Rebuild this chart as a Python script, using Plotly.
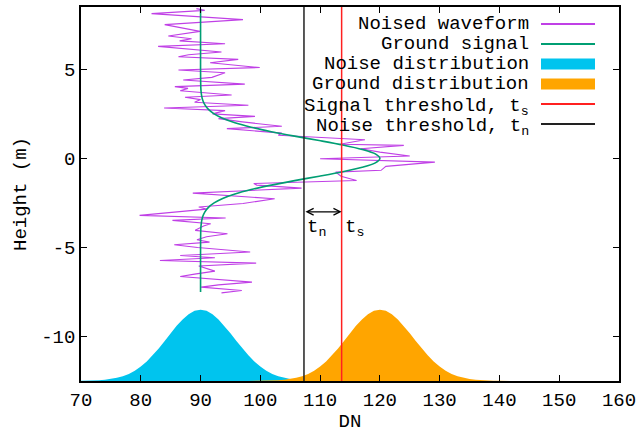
import plotly.graph_objects as go

# ---------------- data ----------------
# Noised waveform: height (m) and DN (top to bottom)
wave_height = [8.41, 8.31, 8.13, 7.95, 7.79, 7.51, 7.13, 6.87, 6.72, 6.60,
               6.44, 6.29, 5.97, 5.82, 5.71, 5.56, 5.37, 5.10, 4.96, 4.81,
               4.55, 4.40, 4.17, 4.03, 3.93, 3.80, 3.56, 3.43, 3.30, 3.15,
               2.98, 2.83, 2.68, 2.50, 2.36, 2.23, 2.05, 1.80, 1.67, 1.42,
               1.30, 1.05, 0.79, 0.73, 0.54, 0.35, 0.13, -0.02, -0.21, -0.45,
               -0.67, -0.77, -1.00, -1.24, -1.41, -1.50, -1.67, -1.95, -2.10, -2.27,
               -2.53, -2.73, -2.85, -3.20, -3.35, -3.48, -3.67, -3.80, -4.04, -4.23,
               -4.40, -4.57, -4.70, -4.85, -5.00, -5.26, -5.45, -5.58, -5.73, -5.88,
               -6.04, -6.20, -6.33, -6.50, -6.63, -6.95, -7.10, -7.23, -7.42, -7.55]
wave_dn = [89.3, 90.7, 81.8, 90.5, 97.1, 84.0, 89.9, 84.6, 88.5, 86.5,
           94.1, 82.9, 93.5, 88.0, 86.3, 96.3, 91.6, 99.9, 86.3, 94.1,
           91.9, 87.1, 97.4, 85.7, 87.9, 86.6, 95.2, 87.4, 90.0, 89.0,
           98.0, 83.9, 94.1, 92.0, 99.1, 93.0, 97.0, 103.6, 94.4, 103.6,
           103.0, 117.5, 113.3, 124.0, 116.8, 120.0, 125.0, 110.0, 129.2, 121.0,
           120.2, 112.6, 113.5, 116.1, 98.9, 99.4, 106.9, 88.7, 95.0, 102.4,
           97.1, 89.7, 91.0, 79.8, 94.2, 85.3, 91.7, 90.5, 89.1, 94.5,
           91.0, 89.4, 91.5, 85.6, 89.5, 98.3, 86.6, 92.4, 83.2, 99.3,
           89.7, 91.0, 92.4, 89.0, 86.6, 98.6, 93.0, 90.1, 96.9, 93.5]

# Ground signal: height (m) and DN
signal_height = [-7.5, -6, -5, -4, -3.75, -3.5, -3.25, -3, -2.75, -2.5,
                 -2.25, -2, -1.75, -1.5, -1.25, -1, -0.75, -0.5, -0.25, 0,
                 0.25, 0.5, 0.75, 1, 1.25, 1.5, 1.75, 2, 2.25, 2.5,
                 2.75, 3, 3.25, 3.5, 3.75, 4, 5, 6, 7, 8.4]
signal_dn = [90.0, 90.0, 90.0, 90.04, 90.09, 90.19, 90.38, 90.73, 91.32, 92.27,
             93.70, 95.75, 98.46, 101.84, 105.73, 109.85, 113.78, 117.05, 119.24, 120.0,
             119.24, 117.05, 113.78, 109.85, 105.73, 101.84, 98.46, 95.75, 93.70, 92.27,
             91.32, 90.73, 90.38, 90.19, 90.09, 90.04, 90.0, 90.0, 90.0, 90.0]

# Distribution shape: DN offset from centre and height above the baseline (m)
dist_offset = list(range(-22, 23))
dist_profile = [0.0, 0.0, 0.01, 0.01, 0.02, 0.04, 0.07, 0.11, 0.18, 0.27,
                0.40, 0.58, 0.81, 1.10, 1.44, 1.83, 2.25, 2.68, 3.10, 3.46,
                3.75, 3.94, 4.00, 3.94, 3.75, 3.46, 3.10, 2.68, 2.25, 1.83,
                1.44, 1.10, 0.81, 0.58, 0.40, 0.27, 0.18, 0.11, 0.07, 0.04,
                0.02, 0.01, 0.01, 0.0, 0.0]
noise_center = 90.0
ground_center = 120.0
dist_base = -12.5

t_n = 107.3
t_s = 113.6
arrow_height = -3.0

x_range = [70, 160]
y_range = [-12.5, 8.5]
x_ticks = [70, 80, 90, 100, 110, 120, 130, 140, 150, 160]
y_ticks = [-10, -5, 0, 5]

legend_labels = ["Noised waveform", "Ground signal", "Noise distribution",
                 "Ground distribution", "Signal threshold, t<sub>s</sub>",
                 "Noise threshold, t<sub>n</sub>"]

# ---------------- style ----------------
FONT = "Liberation Mono"
FS = 19
C_WAVE = "#c040e6"
C_SIG = "#009e73"
C_NOISE = "#00c4ee"
C_GROUND = "#ffa500"
C_TS = "#ff2020"
C_TN = "#222222"

fig = go.Figure()


def dist_trace(center, color):
    xs = [center + d for d in dist_offset]
    ys = [dist_base + h for h in dist_profile]
    return go.Scatter(x=xs, y=ys, mode="lines", line=dict(width=0, color=color),
                      fill="toself", fillcolor=color, hoverinfo="skip", showlegend=False)


fig.add_trace(dist_trace(noise_center, C_NOISE))
fig.add_trace(dist_trace(ground_center, C_GROUND))

fig.add_trace(go.Scatter(x=wave_dn, y=wave_height, mode="lines",
                         line=dict(color=C_WAVE, width=1.1), showlegend=False))
fig.add_trace(go.Scatter(x=signal_dn, y=signal_height, mode="lines",
                         line=dict(color=C_SIG, width=1.6, shape="spline", smoothing=0.8),
                         showlegend=False))

fig.add_trace(go.Scatter(x=[t_n, t_n], y=y_range, mode="lines",
                         line=dict(color=C_TN, width=1.5), showlegend=False))
fig.add_trace(go.Scatter(x=[t_s, t_s], y=y_range, mode="lines",
                         line=dict(color=C_TS, width=1.5), showlegend=False))

# double arrow between thresholds
fig.add_annotation(x=t_s, y=arrow_height, ax=t_n, ay=arrow_height,
                   xref="x", yref="y", axref="x", ayref="y", text="",
                   showarrow=True, arrowside="end+start", arrowhead=5,
                   arrowsize=1.1, arrowwidth=1.2, arrowcolor="black")
fig.add_annotation(x=t_n, y=arrow_height, text="t<sub>n</sub>", showarrow=False,
                   xanchor="left", yanchor="top", xshift=1, yshift=-2,
                   font=dict(family=FONT, size=FS, color="black"))
fig.add_annotation(x=t_s, y=arrow_height, text="t<sub>s</sub>", showarrow=False,
                   xanchor="left", yanchor="top", xshift=1, yshift=-2,
                   font=dict(family=FONT, size=FS, color="black"))

# gnuplot-style key (text right, sample left)
L, R, T, B = 81, 619, 7, 381
W, H = R - L, B - T


def px2paper(px, py):
    return (px - L) / W, (B - py) / H


row_py = [24, 44, 64, 84, 104, 124]
text_right = 531
samp_l, samp_r = 541, 595
samples = [("line", C_WAVE), ("line", C_SIG), ("box", C_NOISE),
           ("box", C_GROUND), ("line", C_TS), ("line", C_TN)]
for lab, py, (kind, col) in zip(legend_labels, row_py, samples):
    tx, ty = px2paper(text_right, py)
    has_sub = "<sub>" in lab
    fig.add_annotation(x=tx, y=ty, xref="paper", yref="paper", text=lab,
                       showarrow=False, xanchor="right", yanchor="middle",
                       yshift=-3 if has_sub else 0,
                       font=dict(family=FONT, size=FS, color="black"))
    x0, y0 = px2paper(samp_l, py)
    x1, _ = px2paper(samp_r, py)
    if kind == "line":
        fig.add_shape(type="line", xref="paper", yref="paper", x0=x0, x1=x1,
                      y0=y0, y1=y0, line=dict(color=col, width=2))
    else:
        _, yb = px2paper(samp_l, py + 5.5)
        _, yt = px2paper(samp_l, py - 5.5)
        fig.add_shape(type="rect", xref="paper", yref="paper", x0=x0, x1=x1,
                      y0=yb, y1=yt, line=dict(width=0), fillcolor=col)

axis_common = dict(showgrid=False, zeroline=False, showline=True, linecolor="black",
                   linewidth=1.5, mirror="allticks", ticks="inside", ticklen=6,
                   tickcolor="black", tickwidth=1, automargin=False,
                   tickfont=dict(family=FONT, size=FS, color="black"))

fig.update_xaxes(range=x_range, tickvals=x_ticks, ticktext=[str(v) for v in x_ticks],
                 title=dict(text="DN", font=dict(family=FONT, size=FS, color="black"),
                            standoff=5), **axis_common)
fig.update_yaxes(range=y_range, tickvals=y_ticks, ticktext=[str(v) for v in y_ticks],
                 title=dict(text="Height (m)", font=dict(family=FONT, size=FS, color="black"),
                            standoff=10), **axis_common)

fig.update_layout(width=643, height=433, plot_bgcolor="white", paper_bgcolor="white",
                  margin=dict(l=L, r=643 - R, t=T, b=433 - B), showlegend=False)

fig.write_html("out.html", config={"displayModeBar": False},
               post_script="document.body.style.margin='0';document.body.style.overflow='hidden';")
